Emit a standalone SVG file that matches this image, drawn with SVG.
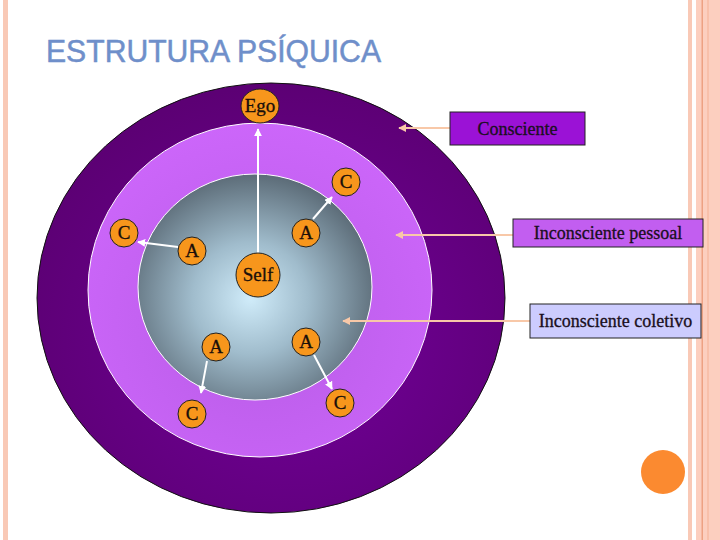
<svg xmlns="http://www.w3.org/2000/svg" width="720" height="540" viewBox="0 0 720 540">
<defs>
<radialGradient id="gOuter" cx="0.55" cy="0.6" r="0.6">
<stop offset="0" stop-color="#72009a"/>
<stop offset="1" stop-color="#5c0074"/>
</radialGradient>
<radialGradient id="gMid" cx="0.5" cy="0.6" r="0.6">
<stop offset="0" stop-color="#b85ce6"/>
<stop offset="1" stop-color="#cc66fa"/>
</radialGradient>
<radialGradient id="gCore" cx="0.48" cy="0.55" r="0.55">
<stop offset="0" stop-color="#d0ecfa"/>
<stop offset="0.45" stop-color="#a0bccc"/>
<stop offset="1" stop-color="#5c6c78"/>
</radialGradient>
<marker id="ah" viewBox="0 0 10 10" refX="9" refY="5" markerWidth="4" markerHeight="4" orient="auto-start-reverse">
<path d="M0,0 L10,5 L0,10 z" fill="#ffffff"/>
</marker>
<marker id="ahp" viewBox="0 0 10 10" refX="9" refY="5" markerWidth="4" markerHeight="4" orient="auto-start-reverse">
<path d="M0,0 L10,5 L0,10 z" fill="#f8c8a8"/>
</marker>
<style>
.node{fill:#f7961c;stroke:#222;stroke-width:1}
.nt{font-family:"Liberation Serif","Times New Roman",serif;font-size:19px;fill:#1a0f0a;stroke:#1a0f0a;stroke-width:0.3;text-anchor:middle}
.lt{font-family:"Liberation Serif","Times New Roman",serif;font-size:18px;fill:#1a0f20;stroke:#1a0f20;stroke-width:0.3;text-anchor:middle}
.wa{stroke:#ffffff;stroke-width:2;fill:none;marker-end:url(#ah)}
.pa{stroke:#f8c8a8;stroke-width:2;fill:none;marker-end:url(#ahp)}
.box{stroke:#222;stroke-width:1}
</style>
</defs>
<rect width="720" height="540" fill="#ffffff"/>
<!-- page borders -->
<rect x="3" y="0" width="5" height="540" fill="#f9c9b6"/>
<rect x="688" y="0" width="4" height="540" fill="#f9c9b6"/>
<rect x="696" y="0" width="24" height="540" fill="#fccfbf"/>
<rect x="701.5" y="0" width="1.5" height="540" fill="#eda283"/>
<rect x="707" y="0" width="2" height="540" fill="#f8c0aa"/>
<text x="46" y="62" font-family="'Liberation Sans',Arial,sans-serif" font-size="31" fill="#6f8fca" stroke="#6f8fca" stroke-width="0.5" textLength="335" lengthAdjust="spacingAndGlyphs">ESTRUTURA PSÍQUICA</text>
<g id="rings">
<ellipse cx="271" cy="298" rx="234" ry="215" fill="url(#gOuter)" stroke="#111" stroke-width="1"/>
<ellipse cx="260" cy="290" rx="172" ry="167" fill="url(#gMid)" stroke="#ffffff" stroke-width="1"/>
<ellipse cx="255" cy="287" rx="117" ry="113" fill="url(#gCore)" stroke="#ffffff" stroke-width="1"/>
</g>
<g id="connectors">
<line class="wa" x1="258" y1="253" x2="258" y2="129"/>
<line class="wa" x1="178" y1="247" x2="138" y2="242"/>
<line class="wa" x1="313" y1="219" x2="332" y2="197"/>
<line class="wa" x1="207" y1="361" x2="201" y2="393"/>
<line class="wa" x1="314" y1="355" x2="332" y2="389"/>
<line class="pa" x1="450" y1="128" x2="399" y2="128"/>
<line class="pa" x1="513" y1="235" x2="396" y2="235"/>
<line class="pa" x1="530" y1="321" x2="343" y2="321"/>
</g>
<g id="ego"><ellipse class="node" cx="260" cy="106" rx="19" ry="17"/><text class="nt" x="260" y="112">Ego</text></g>
<g id="self"><circle class="node" cx="258" cy="275" r="22"/><text class="nt" x="258" y="281">Self</text></g>
<g id="c1"><circle class="node" cx="346" cy="182" r="14"/><text class="nt" x="346" y="188">C</text></g>
<g id="c2"><circle class="node" cx="124" cy="233" r="14"/><text class="nt" x="124" y="239">C</text></g>
<g id="a1"><circle class="node" cx="192" cy="251" r="14"/><text class="nt" x="192" y="257">A</text></g>
<g id="a2"><circle class="node" cx="306" cy="233" r="14"/><text class="nt" x="306" y="239">A</text></g>
<g id="a3"><circle class="node" cx="216" cy="347" r="14"/><text class="nt" x="216" y="353">A</text></g>
<g id="a4"><circle class="node" cx="306" cy="342" r="14"/><text class="nt" x="306" y="348">A</text></g>
<g id="c3"><circle class="node" cx="192" cy="414" r="14"/><text class="nt" x="192" y="420">C</text></g>
<g id="c4"><circle class="node" cx="340" cy="403" r="14"/><text class="nt" x="340" y="409">C</text></g>
<g id="consciente"><rect class="box" x="450" y="112" width="135" height="33" fill="#9b12d6"/><text class="lt" x="517.5" y="135">Consciente</text></g>
<g id="pessoal"><rect class="box" x="513" y="219" width="190" height="28" fill="#c25ef0"/><text class="lt" x="608" y="239">Inconsciente pessoal</text></g>
<g id="coletivo"><rect class="box" x="530" y="304" width="171" height="34" fill="#ccccfe"/><text class="lt" x="615.5" y="327">Inconsciente coletivo</text></g>
<circle cx="663" cy="472" r="22" fill="#fb8a30"/>
</svg>
